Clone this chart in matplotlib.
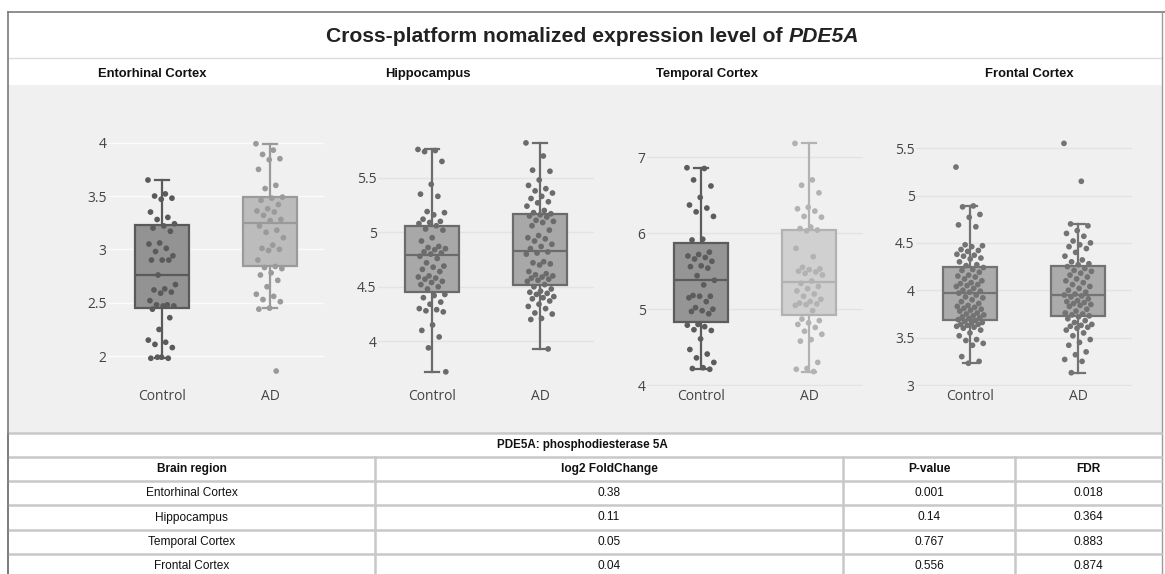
import matplotlib
matplotlib.use("Agg")
import matplotlib.pyplot as plt
from matplotlib.patches import Rectangle

# ── data ─────────────────────────────────────────────────────────────────────

regions = ["Entorhinal Cortex", "Hippocampus", "Temporal Cortex", "Frontal Cortex"]
groups = ["Control", "AD"]

ent_control = [3.65, 3.52, 3.50, 3.48, 3.47, 3.35, 3.30, 3.28, 3.24, 3.22, 3.20, 3.17,
               3.06, 3.05, 3.01, 2.98, 2.94, 2.90, 2.90, 2.90, 2.76, 2.67, 2.63, 2.62,
               2.60, 2.59, 2.52, 2.48, 2.48, 2.47, 2.47, 2.44, 2.36, 2.25, 2.15, 2.13,
               2.11, 2.08, 1.99, 1.98, 1.98, 1.99]
ent_ad = [3.99, 3.93, 3.89, 3.85, 3.84, 3.75, 3.60, 3.57, 3.49, 3.48, 3.46, 3.42, 3.38,
          3.36, 3.35, 3.32, 3.28, 3.27, 3.22, 3.18, 3.16, 3.11, 3.04, 3.01, 3.00, 2.99,
          2.90, 2.84, 2.83, 2.82, 2.78, 2.76, 2.71, 2.65, 2.58, 2.56, 2.53, 2.51, 2.45,
          2.44, 1.86]

hip_control = [5.76, 5.75, 5.74, 5.65, 5.44, 5.35, 5.33, 5.19, 5.18, 5.16, 5.12, 5.10,
               5.09, 5.08, 5.06, 5.03, 5.02, 4.95, 4.92, 4.87, 4.86, 4.85, 4.84, 4.82,
               4.81, 4.80, 4.78, 4.76, 4.72, 4.69, 4.68, 4.66, 4.64, 4.60, 4.59, 4.58,
               4.57, 4.55, 4.54, 4.52, 4.50, 4.48, 4.43, 4.42, 4.40, 4.36, 4.34, 4.30,
               4.29, 4.28, 4.27, 4.15, 4.10, 4.04, 3.94, 3.72]
hip_ad = [5.82, 5.70, 5.57, 5.56, 5.48, 5.43, 5.40, 5.38, 5.36, 5.33, 5.31, 5.28, 5.27,
          5.24, 5.20, 5.18, 5.17, 5.16, 5.15, 5.14, 5.11, 5.10, 5.09, 5.06, 5.02, 4.97,
          4.95, 4.94, 4.92, 4.89, 4.87, 4.85, 4.82, 4.81, 4.80, 4.73, 4.72, 4.71, 4.70,
          4.64, 4.62, 4.61, 4.60, 4.59, 4.58, 4.57, 4.56, 4.55, 4.52, 4.50, 4.48, 4.46,
          4.45, 4.44, 4.43, 4.41, 4.40, 4.39, 4.37, 4.34, 4.32, 4.30, 4.26, 4.25, 4.21,
          4.20, 3.93]

tmp_control = [6.86, 6.85, 6.70, 6.62, 6.47, 6.37, 6.33, 6.28, 6.22, 5.92, 5.91, 5.75,
               5.72, 5.70, 5.68, 5.66, 5.63, 5.57, 5.56, 5.54, 5.44, 5.38, 5.32, 5.18,
               5.17, 5.17, 5.15, 5.10, 5.02, 5.00, 4.98, 4.97, 4.94, 4.80, 4.79, 4.77,
               4.73, 4.72, 4.61, 4.47, 4.41, 4.36, 4.30, 4.23, 4.22, 4.21]
tmp_ad = [7.18, 6.70, 6.63, 6.53, 6.34, 6.32, 6.29, 6.22, 6.21, 6.08, 6.06, 6.04, 6.03,
          5.80, 5.69, 5.55, 5.53, 5.52, 5.50, 5.49, 5.47, 5.45, 5.37, 5.34, 5.30, 5.27,
          5.24, 5.20, 5.17, 5.13, 5.10, 5.08, 5.07, 5.06, 5.05, 4.98, 4.87, 4.85, 4.82,
          4.80, 4.76, 4.71, 4.67, 4.60, 4.58, 4.30, 4.22, 4.21, 4.18]

fro_control = [5.30, 4.89, 4.88, 4.80, 4.77, 4.69, 4.67, 4.48, 4.47, 4.46, 4.43, 4.42,
               4.41, 4.38, 4.37, 4.36, 4.34, 4.33, 4.30, 4.27, 4.26, 4.24, 4.22, 4.21,
               4.19, 4.16, 4.15, 4.14, 4.12, 4.10, 4.08, 4.07, 4.06, 4.05, 4.04, 4.02,
               4.00, 3.99, 3.98, 3.97, 3.95, 3.93, 3.92, 3.90, 3.88, 3.86, 3.84, 3.83,
               3.82, 3.81, 3.80, 3.79, 3.78, 3.76, 3.75, 3.74, 3.73, 3.72, 3.71, 3.70,
               3.69, 3.68, 3.67, 3.66, 3.65, 3.64, 3.64, 3.63, 3.62, 3.61, 3.60, 3.58,
               3.55, 3.52, 3.48, 3.47, 3.44, 3.42, 3.30, 3.25, 3.23]
fro_ad = [5.55, 5.15, 4.70, 4.68, 4.63, 4.60, 4.57, 4.52, 4.50, 4.48, 4.46, 4.44, 4.40,
          4.36, 4.32, 4.30, 4.28, 4.27, 4.25, 4.23, 4.21, 4.20, 4.18, 4.16, 4.14, 4.12,
          4.10, 4.08, 4.06, 4.04, 4.02, 4.00, 3.98, 3.96, 3.95, 3.94, 3.93, 3.91, 3.89,
          3.88, 3.87, 3.86, 3.85, 3.84, 3.83, 3.80, 3.78, 3.76, 3.75, 3.74, 3.73, 3.72,
          3.70, 3.68, 3.66, 3.64, 3.63, 3.62, 3.61, 3.60, 3.58, 3.55, 3.52, 3.48, 3.45,
          3.42, 3.35, 3.32, 3.27, 3.25, 3.13]

points = [(ent_control, ent_ad), (hip_control, hip_ad),
          (tmp_control, tmp_ad), (fro_control, fro_ad)]

# box statistics (q1, median, q3, lower whisker, upper whisker) per group
box_q1 = [(2.45, 2.84), (4.45, 4.52), (4.83, 4.93), (3.69, 3.73)]
box_med = [(2.76, 3.25), (4.79, 4.83), (5.38, 5.36), (3.97, 3.95)]
box_q3 = [(3.23, 3.49), (5.06, 5.17), (5.87, 6.04), (4.25, 4.26)]
box_lo = [(1.98, 2.45), (3.72, 3.93), (4.22, 4.17), (3.23, 3.13)]
box_hi = [(3.65, 3.99), (5.76, 5.82), (6.86, 7.18), (4.89, 4.70)]

yticks = [[2, 2.5, 3, 3.5, 4], [4, 4.5, 5, 5.5], [4, 5, 6, 7], [3, 3.5, 4, 4.5, 5, 5.5]]
ylims = [(1.72, 4.10), (3.59, 5.92), (3.99, 7.33), (2.99, 5.67)]

table_title = "PDE5A: phosphodiesterase 5A"
table_header = ["Brain region", "log2 FoldChange", "P-value", "FDR"]
log2fc = ["0.38", "0.11", "0.05", "0.04"]
pvalue = ["0.001", "0.14", "0.767", "0.556"]
fdr = ["0.018", "0.364", "0.883", "0.874"]

# ── styling ──────────────────────────────────────────────────────────────────

W, H = 1165, 574
box_colors = [("#5a5a5a", "#9a9a9a"), ("#6b6b6b", "#6b6b6b"),
              ("#5c5c5c", "#b2b2b2"), ("#737373", "#737373")]
fill_colors = [("#939393", "#bcbcbc"), ("#a8a8a8", "#a8a8a8"),
               ("#959595", "#d0d0d0"), ("#ababab", "#ababab")]
grid_colors = ["#fbfbfb", "#e3e3e3", "#e3e3e3", "#e3e3e3"]
control_px = [162, 432, 701, 970]
title_px = [152, 428, 707, 1029]

fig = plt.figure(figsize=(W / 100, H / 100), dpi=100)
fig.patch.set_facecolor("white")


def px_axes(left, top, width, height, **kw):
    return fig.add_axes([left / W, 1 - (top + height) / H, width / W, height / H], **kw)


# background canvas in pixel coordinates
bg = px_axes(0, 0, W, H, zorder=0)
bg.set_xlim(0, W)
bg.set_ylim(H, 0)
bg.axis("off")
bg.add_patch(Rectangle((8, 85), 1154, 348, facecolor="#f0f0f0", edgecolor="none"))
bg.plot([8, 1162], [58, 58], color="#dcdcdc", lw=1)
bg.plot([8, 8], [12, H], color="#7a7a7a", lw=1.2)
bg.plot([8, 1165], [12, 12], color="#7a7a7a", lw=1.2)
bg.plot([1162, 1162], [12, H], color="#9a9a9a", lw=1)

# title: regular part + italic gene name, centred together
renderer = fig.canvas.get_renderer()
t1 = bg.text(0, 36, "Cross-platform nomalized expression level of ", ha="left",
             va="center", fontsize=15.2, fontweight="bold", family="Liberation Sans",
             color="#222222")
t2 = bg.text(0, 36, "PDE5A", ha="left", va="center", fontsize=15.2, fontweight="bold",
             style="italic", family="Liberation Sans", color="#222222")
w1 = t1.get_window_extent(renderer).width
w2 = t2.get_window_extent(renderer).width
x0 = 593 - (w1 + w2) / 2
t1.set_x(x0)
t2.set_x(x0 + w1)

for name, x in zip(regions, title_px):
    bg.text(x, 74, name, ha="center", va="center", fontsize=9.4, fontweight="bold",
            family="Liberation Sans", color="#111111")

# ── box panels ───────────────────────────────────────────────────────────────

jit = 0.13
for i in range(4):
    ax = px_axes(control_px[i] - 54, 132, 216, 254, zorder=2)
    ax.set_facecolor("none")
    for s in ax.spines.values():
        s.set_visible(False)
    ax.grid(axis="y", color=grid_colors[i], lw=1)
    ax.set_axisbelow(True)

    for g in range(2):
        col = box_colors[i][g]
        stats = [dict(med=box_med[i][g], q1=box_q1[i][g], q3=box_q3[i][g],
                      whislo=box_lo[i][g], whishi=box_hi[i][g], fliers=[])]
        ax.bxp(stats, positions=[g], widths=0.5, capwidths=0.13, patch_artist=True,
               showfliers=False, manage_ticks=False,
               boxprops=dict(facecolor=fill_colors[i][g], edgecolor=col, lw=1.6),
               medianprops=dict(color=col, lw=1.6),
               whiskerprops=dict(color=col, lw=1.6),
               capprops=dict(color=col, lw=1.6))
        vals = points[i][g]
        xs = [g + (((k * 0.618034) % 1.0) - 0.5) * 2 * jit for k in range(len(vals))]
        ax.scatter(xs, vals, s=17, color=col, edgecolors="none", zorder=4)

    ax.set_xlim(-0.5, 1.5)
    ax.set_ylim(*ylims[i])
    ax.set_yticks(yticks[i])
    ax.set_yticklabels([f"{v:g}" for v in yticks[i]])
    ax.set_xticks([0, 1])
    ax.set_xticklabels(groups)
    ax.tick_params(length=0, labelsize=10, labelcolor="#444444")
    ax.tick_params(axis="y", pad=1)
    ax.tick_params(axis="x", pad=2)
    for lab in ax.get_xticklabels() + ax.get_yticklabels():
        lab.set_family("Open Sans")

# ── table ────────────────────────────────────────────────────────────────────

col_edges = [8, 375, 843, 1015, 1161]
row_edges = [433, 457, 481, 505, 530, 554, 578]
line_c = "#c8c8c8"
for y in row_edges:
    bg.plot([8, 1161], [y, y], color=line_c, lw=1.8, zorder=3)
for x in col_edges[1:-1]:
    bg.plot([x, x], [row_edges[1], H], color=line_c, lw=1.8, zorder=3)
bg.plot([8, 8], [433, H], color="#7a7a7a", lw=1.2, zorder=4)

bg.text(582, 445, table_title, ha="center", va="center", fontsize=8.4,
        fontweight="bold", family="Liberation Sans", color="#111111")
centers = [(col_edges[k] + col_edges[k + 1]) / 2 for k in range(4)]
for k, h in enumerate(table_header):
    bg.text(centers[k], 469, h, ha="center", va="center", fontsize=8.6,
            fontweight="bold", family="Liberation Sans", color="#111111")
for r in range(4):
    yc = (row_edges[r + 2] + row_edges[r + 3]) / 2
    for k, v in enumerate([regions[r], log2fc[r], pvalue[r], fdr[r]]):
        bg.text(centers[k], yc, v, ha="center", va="center", fontsize=8.6,
                family="Liberation Sans", color="#111111")

fig.savefig("out.png", dpi=100, facecolor="white")
